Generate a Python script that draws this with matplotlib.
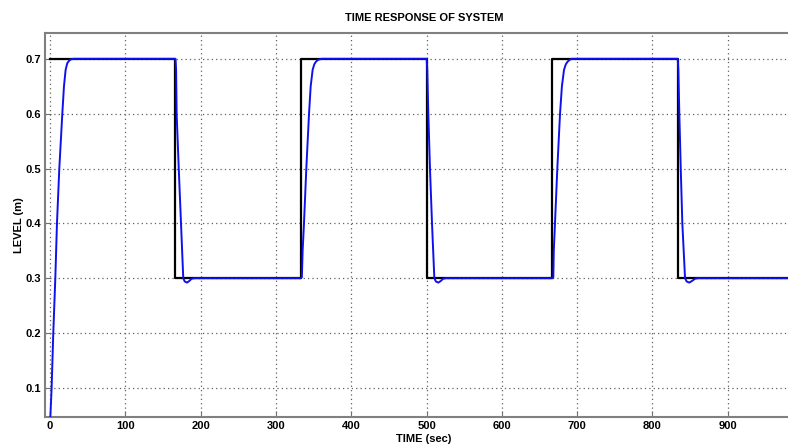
import matplotlib
matplotlib.use("Agg")
import matplotlib.pyplot as plt

# setpoint (square wave), value holds from each switch time
set_t = [0, 166.67, 333.33, 500, 666.67, 833.33, 1000]
set_level = [0.7, 0.3, 0.7, 0.3, 0.7, 0.3, 0.3]

resp_t = [0, 0.5, 2.2, 4.4, 7.1, 9.3, 12.4, 16.4, 18.6, 20.8, 23, 25.7, 28, 31,
          166.7, 167.5, 168.2, 171, 174, 177, 179, 182, 185, 188, 192,
          333.3, 334.5, 335.5, 337.3, 340.4, 344, 346.2, 348.8, 351, 353.3, 356, 360.8,
          500.2, 501, 502.4, 504.6, 507.3, 510.4, 512.5, 515.7, 519, 522, 526,
          667.6, 668.4, 669, 670.6, 673.7, 677.3, 679.8, 682.6, 685, 687.5, 690, 692.8,
          833.6, 834.4, 835.7, 837.6, 839.7, 843.3, 845.5, 849, 852.5, 856.6, 860, 1000]
resp_level = [0.03, 0.047, 0.1, 0.2, 0.3, 0.4, 0.5, 0.6, 0.65, 0.68, 0.692, 0.697, 0.699, 0.7,
              0.7, 0.68, 0.6, 0.5, 0.4, 0.3, 0.294, 0.292, 0.295, 0.299, 0.3,
              0.3, 0.302, 0.35, 0.4, 0.5, 0.6, 0.65, 0.68, 0.69, 0.695, 0.698, 0.7,
              0.7, 0.68, 0.6, 0.5, 0.4, 0.3, 0.294, 0.292, 0.295, 0.299, 0.3,
              0.3, 0.302, 0.35, 0.4, 0.5, 0.6, 0.65, 0.68, 0.69, 0.695, 0.698, 0.7,
              0.7, 0.68, 0.6, 0.5, 0.4, 0.3, 0.294, 0.292, 0.295, 0.299, 0.3, 0.3]

x_ticks = [0, 100, 200, 300, 400, 500, 600, 700, 800, 900]
y_ticks = [0.1, 0.2, 0.3, 0.4, 0.5, 0.6, 0.7]

plt.rcParams['font.family'] = ['Liberation Sans', 'DejaVu Sans']

fig = plt.figure(figsize=(7.88, 4.48), dpi=100)
# axes runs past the right edge, like the cropped original
ax = fig.add_axes([0.0571, 0.0692, 0.962, 0.8571])

ax.plot(set_t, set_level, color='black', lw=1.6, drawstyle='steps-post', zorder=3)
ax.plot(resp_t, resp_level, color='#1010ee', lw=1.4, zorder=4)

ax.set_xlim(-6.6, 1000)
ax.set_ylim(0.047, 0.747)
ax.set_xticks(x_ticks)
ax.set_yticks(y_ticks)
ax.set_xticklabels([str(v) for v in x_ticks], fontsize=8, fontweight='bold')
ax.set_yticklabels([str(v) for v in y_ticks], fontsize=8, fontweight='bold')
ax.tick_params(direction='in', length=4, color='#707070', pad=3)
ax.grid(True, linestyle=(0, (1, 2.5)), color='#606060', lw=0.9)

for s in ax.spines.values():
    s.set_color('#808080')
    s.set_linewidth(1.5)

ax.set_title('TIME RESPONSE OF SYSTEM', fontsize=8, fontweight='bold', pad=9)
ax.set_xlabel('TIME (sec)', fontsize=8, fontweight='bold', labelpad=2)
ax.set_ylabel('LEVEL (m)', fontsize=8, fontweight='bold', labelpad=1)

fig.savefig('out.png', dpi=100)
